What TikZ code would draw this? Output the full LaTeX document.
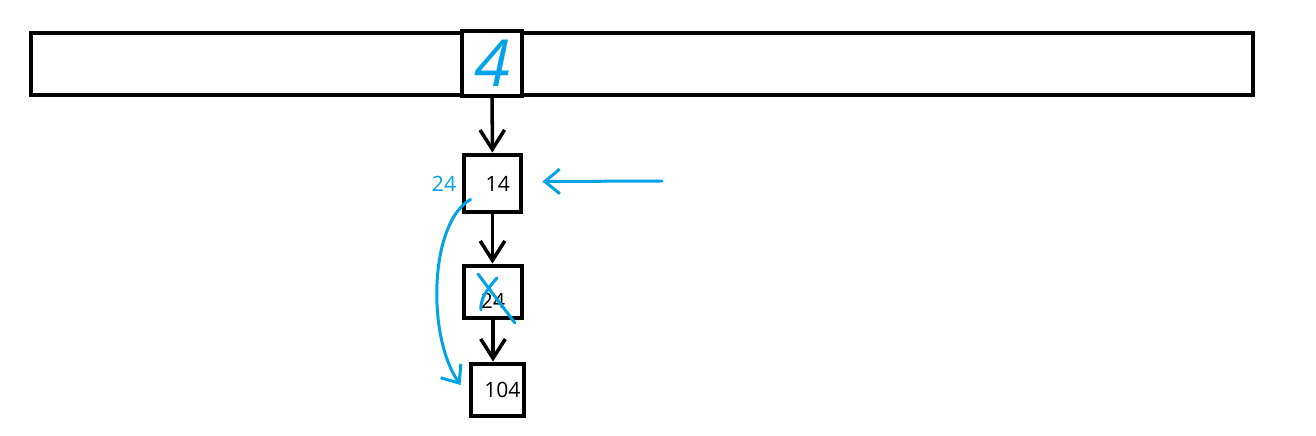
\documentclass[tikz,border=0pt]{standalone}
\usepackage{fontspec}
\setmainfont{Open Sans}
\usetikzlibrary{arrows.meta,positioning}
\definecolor{penblue}{RGB}{0,162,232}
\tikzset{
  bar/.style={draw, line width=2.3pt, minimum width=24.44cm, minimum height=1.24cm, inner sep=0pt},
  cell/.style={draw, fill=white, line width=2.8pt, minimum width=1.2cm, minimum height=1.3cm, inner sep=0pt},
  lbox/.style={draw, line width=2.8pt, inner sep=0pt, font=\fontsize{12}{14}\selectfont},
  larr/.style={-{Straight Barb[length=11pt,width=14pt]}, line width=2pt, line cap=round},
  pen/.style={penblue, line width=1.7pt, line cap=round},
  penarr/.style={pen, -{Straight Barb[length=8.5pt,width=14pt]}},
}
\begin{document}
\begin{tikzpicture}[x=0.02cm, y=-0.02cm]
  \useasboundingbox (0,0) rectangle (1316,436);
  % hash table and bucket 4
  \node[bar] (tab) at (642,64) {};
  \node[cell, text=penblue, font=\fontsize{37}{40}\selectfont\itshape] (cell) at (492,63.5) {4};
  % chain
  \node[lbox, minimum width=1.14cm, minimum height=1.14cm] (b14) at (492.5,183.5) {\hspace{6pt}14};
  \node[lbox, minimum width=1.16cm, minimum height=1.04cm] (b24) at (493,292) {\raisebox{-9.3pt}[0pt][0pt]{24}\hspace{8pt}};
  \node[lbox, minimum width=1.06cm, minimum height=1.04cm] (b104) at (497.5,390) {\hspace{5.5pt}104};
  \draw[larr] (cell) -- (b14);
  \draw[larr] (b14) -- (b14 |- b24.north);
  \draw[larr] (b24) -- (b24 |- b104.north);
  % deleting 24
  \node[text=penblue, font=\fontsize{12}{14}\selectfont] (old) at (444,184) {24};
  \coordinate (cur) at (662,181);
  \draw[penarr] (cur) -- ([shift={(19,-2)}]b14.east);
  \draw[pen] (478,274) -- (515,323);
  \draw[pen] (497,278) .. controls (486,290) and (480,300) .. (481,310);
  \draw[penarr] ([shift={(9,-15)}]b14.south west) .. controls (430,222) and (426,335) .. ([shift={(-8,-5)}]b104.west);
\end{tikzpicture}
\end{document}
